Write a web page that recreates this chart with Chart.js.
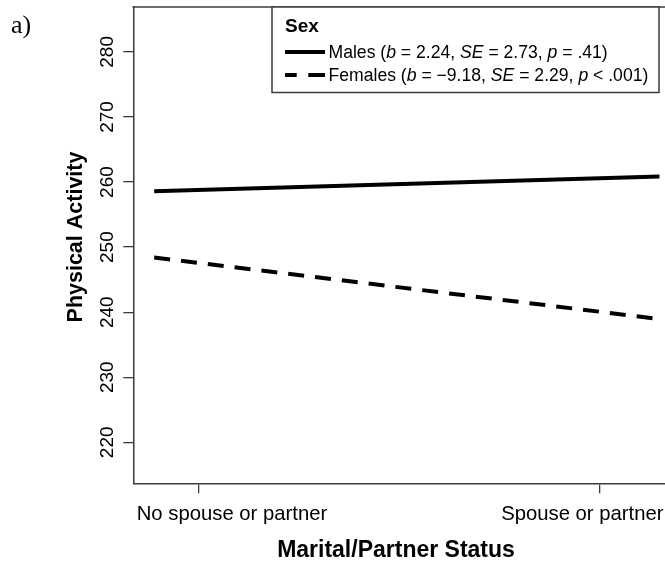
<!DOCTYPE html>
<html>
<head>
<meta charset="utf-8">
<script src="https://cdn.jsdelivr.net/npm/chart.js@4/dist/chart.umd.min.js"></script>
<style>
  html, body { margin: 0; padding: 0; background: #fff; }
  canvas { display: block; }
</style>
</head>
<body>
<canvas id="c" width="665" height="565"></canvas>
<script>
// Marital/partner status (x coded 0 / 1) and predicted physical activity by sex
const categories = ['No spouse or partner', 'Spouse or partner'];
const categoryPositions = [0, 1];
const lineExtent = [-0.11, 1.15];
const malesActivity = [258.6, 260.85];
const femalesActivity = [248.4, 238.95];
const yTicks = [220, 230, 240, 250, 260, 270, 280];
const seriesNames = ['Males', 'Females'];
const seriesB = ['2.24', '\u22129.18'];
const seriesSE = ['2.73', '2.29'];
const seriesP = ['= .41', '< .001'];

const SANS = '"Liberation Sans", Arial, Helvetica, sans-serif';
const AXIS = '#3c3c3c';

function toPoints(values) {
  return lineExtent.map((x, i) => ({ x: x, y: values[i] }));
}

// draw a run of text pieces, some of them italic, starting at x
function richText(ctx, pieces, x, y, size) {
  let cx = x;
  pieces.forEach(p => {
    ctx.font = (p.i ? 'italic ' : '') + size + 'px ' + SANS;
    ctx.fillText(p.t, cx, y);
    cx += ctx.measureText(p.t).width;
  });
}

const annotations = {
  id: 'annotations',
  afterDraw(chart) {
    const ctx = chart.ctx;
    const a = chart.chartArea;
    const ys = chart.scales.y;
    ctx.save();

    // top edge of the plot box
    ctx.strokeStyle = AXIS;
    ctx.lineWidth = 1.5;
    ctx.beginPath();
    ctx.moveTo(a.left - 0.75, a.top);
    ctx.lineTo(a.right, a.top);
    ctx.stroke();

    ctx.fillStyle = '#000';

    // panel letter
    ctx.font = '26px "Liberation Serif", "Times New Roman", serif';
    ctx.textAlign = 'left';
    ctx.textBaseline = 'alphabetic';
    ctx.fillText('a)', 11, 33);

    // y tick labels, rotated
    ctx.font = '19px ' + SANS;
    yTicks.forEach(v => {
      ctx.save();
      ctx.translate(113, ys.getPixelForValue(v));
      ctx.rotate(-Math.PI / 2);
      ctx.textAlign = 'center';
      ctx.fillText(String(v), 0, 0);
      ctx.restore();
    });

    // y axis title
    ctx.save();
    ctx.font = 'bold 21.5px ' + SANS;
    ctx.translate(82, 237);
    ctx.rotate(-Math.PI / 2);
    ctx.textAlign = 'center';
    ctx.fillText('Physical Activity', 0, 0);
    ctx.restore();

    // x category labels
    ctx.font = '20.3px ' + SANS;
    ctx.textAlign = 'left';
    ctx.fillText(categories[0], a.left + 3.4, 519.5);
    ctx.textAlign = 'right';
    ctx.fillText(categories[1], 663.5, 519.5);

    // x axis title
    ctx.font = 'bold 23px ' + SANS;
    ctx.textAlign = 'center';
    ctx.fillText('Marital/Partner Status', 396, 556.5);

    // legend box
    const lx = 272, ly = a.top, lw = 387, lh = 85.5;
    ctx.fillStyle = '#fff';
    ctx.fillRect(lx, ly, lw, lh);
    ctx.strokeStyle = AXIS;
    ctx.lineWidth = 1.5;
    ctx.strokeRect(lx, ly, lw, lh);

    ctx.fillStyle = '#000';
    ctx.textAlign = 'left';
    ctx.font = 'bold 19px ' + SANS;
    ctx.fillText('Sex', 285, 31.5);

    const rowY = [52, 75];
    const dashes = [[], [11.7, 11.6, 100]];
    seriesNames.forEach((name, i) => {
      ctx.strokeStyle = '#000';
      ctx.lineWidth = 4;
      ctx.lineCap = 'butt';
      ctx.setLineDash(dashes[i]);
      ctx.beginPath();
      ctx.moveTo(285, rowY[i]);
      ctx.lineTo(325, rowY[i]);
      ctx.stroke();
      ctx.setLineDash([]);
      richText(ctx, [
        { t: name + ' (' },
        { t: 'b', i: true },
        { t: ' = ' + seriesB[i] + ', ' },
        { t: 'SE', i: true },
        { t: ' = ' + seriesSE[i] + ', ' },
        { t: 'p', i: true },
        { t: ' ' + seriesP[i] + ')' }
      ], 328.5, rowY[i] + 6.3, 17.6);
    });

    ctx.restore();
  }
};

new Chart(document.getElementById('c'), {
  type: 'line',
  data: {
    datasets: [
      {
        label: seriesNames[0],
        data: toPoints(malesActivity),
        borderColor: '#000',
        borderWidth: 4,
        borderCapStyle: 'butt',
        pointRadius: 0,
        fill: false
      },
      {
        label: seriesNames[1],
        data: toPoints(femalesActivity),
        borderColor: '#000',
        borderWidth: 4,
        borderCapStyle: 'butt',
        borderDash: [16, 11],
        pointRadius: 0,
        fill: false
      }
    ]
  },
  options: {
    responsive: false,
    animation: false,
    devicePixelRatio: 1,
    layout: { padding: { top: 7, left: 0, right: 0, bottom: 0 } },
    plugins: { legend: { display: false }, tooltip: { enabled: false } },
    scales: {
      x: {
        type: 'linear',
        min: -0.1621,
        max: 1.1638,
        afterBuildTicks: s => { s.ticks = categoryPositions.map(v => ({ value: v })); },
        afterFit: s => { s.height = 81.7; },
        ticks: { display: false },
        grid: { display: true, drawOnChartArea: false, drawTicks: true, tickLength: 10, color: AXIS, lineWidth: 1.3 },
        border: { display: true, color: AXIS, width: 1.5 }
      },
      y: {
        type: 'linear',
        min: 213.7,
        max: 286.9,
        afterBuildTicks: s => { s.ticks = yTicks.map(v => ({ value: v })); },
        afterFit: s => { s.width = 133.3; },
        ticks: { display: false },
        grid: { display: true, drawOnChartArea: false, drawTicks: true, tickLength: 10, color: AXIS, lineWidth: 1.3 },
        border: { display: true, color: AXIS, width: 1.5 }
      }
    }
  },
  plugins: [annotations]
});
</script>
</body>
</html>
